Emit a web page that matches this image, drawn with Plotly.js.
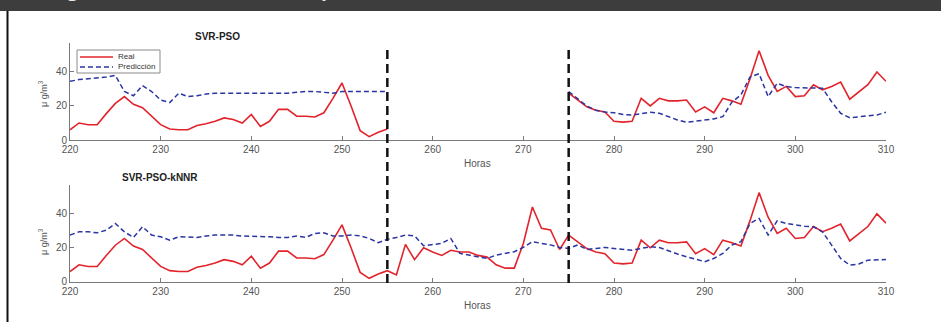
<!DOCTYPE html>
<html>
<head>
<meta charset="utf-8">
<script src="https://cdn.plot.ly/plotly-3.0.1.min.js"></script>
<style>html,body{margin:0;padding:0;background:#fff;}#chart{width:941px;height:322px;}</style>
</head>
<body>
<div id="chart"></div>
<script>
// ---- data ----
const hours = [];
for (let h = 220; h <= 310; h++) hours.push(h);

const realValues = [
  6, 10, 9, 9, 15.5, 21.5, 25.5, 21, 19, 14,          // 220-229
  9, 6.5, 6, 6, 8.5, 9.5, 11, 13, 12, 10,             // 230-239
  15, 8, 11, 18, 18, 14, 14, 13.5, 16, 24.5,          // 240-249
  33.5, 20, 5.5, 2, 4.5, 6.5, 4, 22, 13, 20,          // 250-259
  17.5, 15.5, 18.5, 17.5, 17.5, 15.5, 14.5, 10, 8, 8, // 260-269
  22.5, 44, 31.5, 30.5, 19, 27.5, 23.5, 19.5, 17.5, 16.5, // 270-279
  11, 10.5, 11, 24.5, 20, 24.5, 23, 23, 23.5, 16.5,   // 280-289
  19.5, 16, 24.5, 23, 21, 36, 52.5, 38, 28.5, 31.5,   // 290-299
  25.5, 26, 32.5, 29.5, 31.5, 34, 24, 28.5, 32.5, 40, // 300-309
  34.5                                               // 310
];

const predSVRPSO = [
  34.5, 35.5, 36, 36.5, 37, 38, 28.5, 26, 32, 28.5,   // 220-229
  23.5, 22, 27.5, 25.5, 26, 27, 27.5, 27.5, 27.5, 27.5, // 230-239
  27.5, 27.5, 27.5, 27.5, 27.5, 28, 28.5, 28.5, 28, 27.5, // 240-249
  28.5, 28.5, 28.5, 28.5, 28.5, 28.5, null, null, null, null, // 250-259
  null, null, null, null, null, null, null, null, null, null, // 260-269
  null, null, null, null, null, 28.5, 24, 20, 17.5, 16.5,     // 270-279
  16, 15, 14.7, 15.7, 16.3, 15.7, 13.7, 11.8, 10.4, 11.2,     // 280-289
  11.8, 12.4, 13.7, 22.2, 26.5, 37, 39, 25.5, 33.3, 31.4,     // 290-299
  30.8, 30.8, 30.8, 30.4, 22.5, 15.7, 13.1, 13.7, 14.3, 14.7, // 300-309
  16.3                                                        // 310
];

const predKNNR = [
  27.5, 29.4, 29.4, 28.8, 30.4, 34.3, 29.4, 26.1, 32.4, 27.5, // 220-229
  26.5, 24.5, 26.5, 26.1, 26.1, 26.9, 27.5, 27.5, 27.5, 26.9, // 230-239
  26.9, 26.5, 26.5, 26.1, 26.1, 26.9, 26.1, 28.4, 28.8, 27,   // 240-249
  27, 27.5, 27, 25.5, 23, 25, 26, 27.5, 27, 21.2,             // 250-259
  21.7, 22.6, 25.5, 16.7, 15.7, 14.7, 13.7, 15.7, 16.7, 17.7, // 260-269
  20.2, 23.6, 22.6, 21.7, 20.2, 19.6, 21.7, 19, 19.6, 20.2,   // 270-279
  19.6, 19, 18.6, 19.6, 20.6, 20.2, 18.2, 16.3, 14.7, 13.1,   // 280-289
  11.8, 13.7, 16.7, 21.6, 23.6, 34.3, 37.3, 27.5, 35.9, 34.3, // 290-299
  33.3, 32.7, 32.4, 29.4, 21.6, 13.7, 9.8, 10.4, 12.7, 13.1,  // 300-309
  13.1                                                        // 310
];

const gapHours = [255, 275];          // imputation window (vertical dashed lines)
const xTickVals = [220, 230, 240, 250, 260, 270, 280, 290, 300, 310];
const yTickVals = [0, 20, 40];
const seriesNames = ['Real', 'Predicción'];
const panelTitles = ['SVR-PSO', 'SVR-PSO-kNNR'];
const figureCaption = 'Figura 4. Resultados de la imputación de datos PM2.5';

// top panel shows the real series only outside the gap
const realTop = realValues.map((v, i) => (hours[i] > gapHours[0] && hours[i] < gapHours[1]) ? null : v);

// ---- layout helpers ----
const W = 941, H = 322;
const px = x => x / W;
const py = y => 1 - y / H;

const RED = '#e3232c';
const BLUE = '#2b35a3';
const AX = '#7a7a7a';
const TXT = '#555555';
const FONT = 'Liberation Sans, Arial, Helvetica, sans-serif';

function xAxis(anchor) {
  return {
    domain: [px(70), px(886)], range: [220, 310], anchor: anchor,
    tickvals: xTickVals, ticks: 'inside', ticklen: 4, tickcolor: AX, tickwidth: 1,
    showline: true, linecolor: AX, linewidth: 1, showgrid: false, zeroline: false,
    tickfont: {size: 10, color: TXT, family: FONT}, fixedrange: true
  };
}
function yAxis(anchor, top, bottom) {
  return {
    domain: [py(bottom), py(top)], range: [0, 57], anchor: anchor,
    tickvals: yTickVals, ticks: 'inside', ticklen: 4, tickcolor: AX, tickwidth: 1,
    showline: true, linecolor: AX, linewidth: 1, showgrid: false, zeroline: false,
    tickfont: {size: 10, color: TXT, family: FONT}, fixedrange: true
  };
}

const traces = [
  {x: hours, y: realTop, xaxis: 'x', yaxis: 'y', mode: 'lines', name: seriesNames[0],
   line: {color: RED, width: 1.6}, connectgaps: false, showlegend: false},
  {x: hours, y: predSVRPSO, xaxis: 'x', yaxis: 'y', mode: 'lines', name: seriesNames[1],
   line: {color: BLUE, width: 1.5, dash: '5px,3px'}, connectgaps: false, showlegend: false},
  {x: hours, y: realValues, xaxis: 'x2', yaxis: 'y2', mode: 'lines', name: seriesNames[0],
   line: {color: RED, width: 1.6}, showlegend: false},
  {x: hours, y: predKNNR, xaxis: 'x2', yaxis: 'y2', mode: 'lines', name: seriesNames[1],
   line: {color: BLUE, width: 1.5, dash: '5px,3px'}, showlegend: false}
];

const shapes = [
  // header bar
  {type: 'rect', xref: 'paper', yref: 'paper', x0: 0, x1: 1, y0: py(11), y1: 1.05,
   fillcolor: '#3d3d3d', line: {width: 0}, layer: 'below'},
  // left frame line
  {type: 'line', xref: 'paper', yref: 'paper', x0: px(7.5), x1: px(7.5), y0: -0.01, y1: py(11),
   line: {color: '#111', width: 2}},
  // legend box
  {type: 'rect', xref: 'paper', yref: 'paper', x0: px(77), x1: px(160), y0: py(73), y1: py(50),
   fillcolor: '#fff', line: {color: '#8a8a8a', width: 1}},
  {type: 'line', xref: 'paper', yref: 'paper', x0: px(80), x1: px(113), y0: py(57), y1: py(57),
   line: {color: RED, width: 1.6}},
  {type: 'line', xref: 'paper', yref: 'paper', x0: px(80), x1: px(113), y0: py(67), y1: py(67),
   line: {color: BLUE, width: 1.5, dash: '5px,3px'}}
];
gapHours.forEach(h => shapes.push({
  type: 'line', xref: 'x', yref: 'paper', x0: h, x1: h, y0: py(283), y1: py(45),
  line: {color: '#111', width: 2.5, dash: '9px,5px'}
}));

const ann = (text, x, y, opts) => Object.assign({
  text: text, xref: 'paper', yref: 'paper', x: x, y: y, showarrow: false,
  xanchor: 'center', yanchor: 'middle',
  font: {size: 10, color: TXT, family: FONT}
}, opts || {});

const annotations = [
  ann('<b>' + figureCaption + '</b>', px(49), py(4.5),
      {xanchor: 'left', yanchor: 'bottom', font: {size: 19, color: '#e6e6e6', family: 'Open Sans, sans-serif'}}),
  ann('<b>' + panelTitles[0] + '</b>', px(217), py(37), {font: {size: 10, color: '#222', family: FONT}}),
  ann('<b>' + panelTitles[1] + '</b>', px(160), py(177), {font: {size: 10, color: '#222', family: FONT}}),
  ann('Horas', px(477), py(163)),
  ann('Horas', px(477), py(305)),
  ann('\u03bc g/m<sup>3</sup>', px(43), py(94), {textangle: -90, font: {size: 9, color: TXT, family: FONT}}),
  ann('\u03bc g/m<sup>3</sup>', px(43), py(242), {textangle: -90, font: {size: 9, color: TXT, family: FONT}}),
  ann(seriesNames[0], px(116), py(56.5), {xanchor: 'left', font: {size: 8, color: '#333', family: FONT}}),
  ann(seriesNames[1], px(116), py(66.5), {xanchor: 'left', font: {size: 8, color: '#333', family: FONT}})
];

const layout = {
  width: W, height: H, margin: {l: 0, r: 0, t: 0, b: 0},
  paper_bgcolor: '#fff', plot_bgcolor: 'rgba(0,0,0,0)',
  showlegend: false,
  xaxis: xAxis('y'), yaxis: yAxis('x', 43, 140),
  xaxis2: xAxis('y2'), yaxis2: yAxis('x2', 185, 281.7),
  shapes: shapes, annotations: annotations
};

Plotly.newPlot('chart', traces, layout, {staticPlot: true, displayModeBar: false});
</script>
</body>
</html>
